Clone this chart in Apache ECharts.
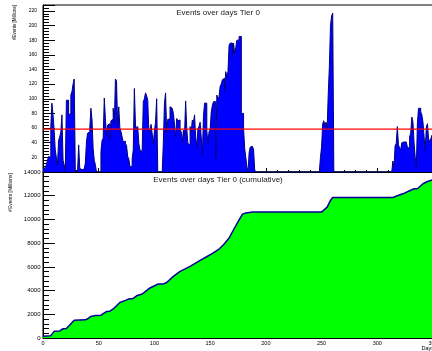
<!DOCTYPE html>
<html>
<head>
<meta charset="utf-8">
<script src="https://cdn.jsdelivr.net/npm/echarts@6.0.0/dist/echarts.min.js"></script>
<style>
  html, body { margin: 0; padding: 0; background: #fff; }
  #chart { width: 432px; height: 351px; }
</style>
</head>
<body>
<div id="chart"></div>
<script>
const BAR_FILL = "#0000ff";
const BAR_EDGE = "#000080";
const MEAN_COLOR = "#ff0000";
const CUM_FILL = "#00ff00";
const CUM_EDGE = "#000099";
const FONT = "Liberation Sans, Arial, sans-serif";

// events per day (millions), day 0 .. 190
const daysFrom0 = [
  4, 6, 8, 10, 16, 21, 20, 62, 94, 78,
  57, 30, 20, 10, 43, 48, 55, 78, 16, 10,
  2, 98, 98, 78, 80, 105, 110, 120, 127, 0,
  0, 0, 37, 5, 3, 2, 4, 3, 12, 41,
  53, 55, 60, 87, 71, 32, 16, 10, 0, 0,
  0, 0, 28, 43, 46, 101, 73, 50, 64, 66,
  44, 70, 72, 87, 66, 127, 124, 62, 89, 60,
  55, 48, 41, 42, 39, 36, 21, 18, 7, 8,
  18, 30, 114, 64, 59, 62, 39, 30, 28, 27,
  96, 100, 108, 104, 98, 55, 58, 65, 52, 39,
  56, 68, 100, 0, 0, 0, 0, 0, 40, 94,
  108, 53, 72, 72, 89, 87, 87, 80, 65, 48,
  73, 70, 71, 58, 55, 41, 57, 50, 97, 60,
  39, 37, 62, 55, 71, 68, 78, 48, 34, 59,
  62, 68, 48, 23, 76, 94, 94, 57, 39, 55,
  58, 82, 91, 96, 96, 18, 105, 100, 103, 117,
  120, 126, 128, 110, 137, 130, 137, 173, 176, 176,
  157, 176, 162, 170, 180, 180, 185, 185, 80, 80,
  59, 32, 20, 7, 0, 27, 34, 35, 37, 30,
  2,
];
// day 249 .. 260
const daysFrom249 = [20, 34, 66, 70, 63, 68, 59, 107, 144, 200, 213, 217];
// day 313 .. 350
const daysFrom313 = [
  0, 15, 7, 36, 39, 62, 37, 33, 30, 40,
  41, 41, 41, 40, 34, 32, 48, 53, 75, 68,
  40, 21, 5, 66, 87, 87, 82, 78, 68, 48,
  30, 61, 66, 46, 41, 45, 50, 45,
];
// other days had no events
const runs = [
  { start: 0, values: daysFrom0 },
  { start: 249, values: daysFrom249 },
  { start: 313, values: daysFrom313 },
];
const LAST_DAY = 350;
const MEAN_LEVEL = 58.5;

// cumulative curve [day, millions]
const cumulative = [
  [0, 150], [7, 200], [8, 330], [10, 560], [15, 600], [18, 780], [21, 800],
  [24, 1100], [28, 1490], [38, 1530], [40, 1620], [43, 1820], [47, 1900],
  [52, 1910], [54, 2050], [57, 2230], [60, 2260], [63, 2450], [66, 2720],
  [69, 3000], [74, 3170], [77, 3290], [81, 3340], [84, 3560], [89, 3710],
  [92, 3930], [96, 4220], [101, 4450], [103, 4550], [108, 4560], [111, 4680],
  [117, 5195], [123, 5615], [132, 6036], [141, 6540], [150, 7020], [158, 7500],
  [162, 7865], [167, 8430], [171, 9130], [176, 9970], [179, 10450],
  [182, 10540], [188, 10620], [250, 10620], [251, 10760], [255, 11040],
  [258, 11600], [260, 11850], [314, 11850], [318, 12000], [323, 12160],
  [329, 12420], [333, 12590], [336, 12590], [341, 13010], [345, 13200],
  [350, 13345],
];

const topTicks = [20, 40, 60, 80, 100, 120, 140, 160, 180, 200, 220];

function valueOn(day) {
  for (const run of runs) {
    const i = day - run.start;
    if (i >= 0 && i < run.values.length) return run.values[i];
  }
  return 0;
}

function dailyPoints() {
  const points = [];
  for (let d = 0; d <= LAST_DAY; d++) points.push([d, valueOn(d)]);
  points.push([LAST_DAY + 1, valueOn(LAST_DAY)]);
  return points;
}

function xAxisFor(gridIndex, withLabels) {
  return {
    type: "value",
    gridIndex,
    min: 0,
    max: LAST_DAY,
    interval: 50,
    axisLine: { lineStyle: { color: "#000", width: 1 } },
    axisTick: { inside: true, length: 4, lineStyle: { color: "#000" } },
    minorTick: { show: true, splitNumber: 5, length: 2, lineStyle: { color: "#000" } },
    splitLine: { show: false },
    axisLabel: {
      show: withLabels,
      color: "#000",
      fontFamily: FONT,
      fontSize: 5.5,
      margin: 2,
      formatter: (v) => String(v),
    },
  };
}

const chart = echarts.init(document.getElementById("chart"), null, { renderer: "canvas" });

chart.setOption({
  animation: false,
  backgroundColor: "#fff",
  grid: [
    { left: 43, right: -1, top: 5, height: 167, show: true, borderColor: "#000", borderWidth: 1, outerBoundsMode: "none" },
    { left: 43, right: -1, top: 172, height: 166, show: true, borderColor: "#000", borderWidth: 1, outerBoundsMode: "none" },
  ],
  xAxis: [xAxisFor(0, false), xAxisFor(1, true)],
  yAxis: [
    {
      type: "value",
      gridIndex: 0,
      min: 0,
      max: 228,
      interval: 20,
      axisLine: { show: true, lineStyle: { color: "#000" } },
      axisTick: { inside: true, length: 12, lineStyle: { color: "#000" } },
      minorTick: { show: true, splitNumber: 5, length: 6, lineStyle: { color: "#000" } },
      splitLine: { show: false },
      axisLabel: {
        color: "#000",
        fontFamily: FONT,
        fontSize: 5,
        margin: 6,
        formatter: (v) => (topTicks.includes(v) ? String(v) : ""),
      },
    },
    {
      type: "value",
      gridIndex: 1,
      min: 0,
      max: 14000,
      interval: 2000,
      axisLine: { show: true, lineStyle: { color: "#000" } },
      axisTick: { inside: true, length: 12, lineStyle: { color: "#000" } },
      minorTick: { show: true, splitNumber: 5, length: 6, lineStyle: { color: "#000" } },
      splitLine: { show: false },
      axisLabel: {
        color: "#000",
        fontFamily: FONT,
        fontSize: 6,
        margin: 2.5,
        formatter: (v) => String(v),
      },
    },
  ],
  series: [
    {
      name: "Events",
      type: "line",
      xAxisIndex: 0,
      yAxisIndex: 0,
      step: "end",
      symbol: "none",
      data: dailyPoints(),
      lineStyle: { color: BAR_EDGE, width: 1 },
      areaStyle: { color: BAR_FILL, opacity: 1 },
      z: 2,
    },
    {
      name: "Mean",
      type: "line",
      xAxisIndex: 0,
      yAxisIndex: 0,
      symbol: "none",
      silent: true,
      data: [[0, MEAN_LEVEL], [LAST_DAY + 1, MEAN_LEVEL]],
      lineStyle: { color: MEAN_COLOR, width: 1.2 },
      z: 5,
    },
    {
      name: "Cumulative",
      type: "line",
      xAxisIndex: 1,
      yAxisIndex: 1,
      symbol: "none",
      data: cumulative,
      lineStyle: { color: CUM_EDGE, width: 1.5 },
      areaStyle: { color: CUM_FILL, opacity: 1 },
    },
  ],
  graphic: [
    {
      type: "text", x: 218, y: 13,
      style: { text: "Events over days Tier 0", font: `8px ${FONT}`, fill: "#222", textAlign: "center", textVerticalAlign: "middle" },
    },
    {
      type: "text", x: 218, y: 179.5,
      style: { text: "Events over days Tier 0 (cumulative)", font: `8px ${FONT}`, fill: "#222", textAlign: "center", textVerticalAlign: "middle" },
    },
    {
      type: "text", x: 14.5, y: 5, rotation: Math.PI / 2,
      style: { text: "#Events [Millions]", font: `4.5px ${FONT}`, fill: "#000", textAlign: "right", textVerticalAlign: "middle" },
    },
    {
      type: "text", x: 10.5, y: 173, rotation: Math.PI / 2,
      style: { text: "#Events [Millions]", font: `5px ${FONT}`, fill: "#000", textAlign: "right", textVerticalAlign: "middle" },
    },
    {
      type: "text", x: 434, y: 348,
      style: { text: "Days", font: `5.5px ${FONT}`, fill: "#000", textAlign: "right", textVerticalAlign: "middle" },
    },
  ],
});
</script>
</body>
</html>
